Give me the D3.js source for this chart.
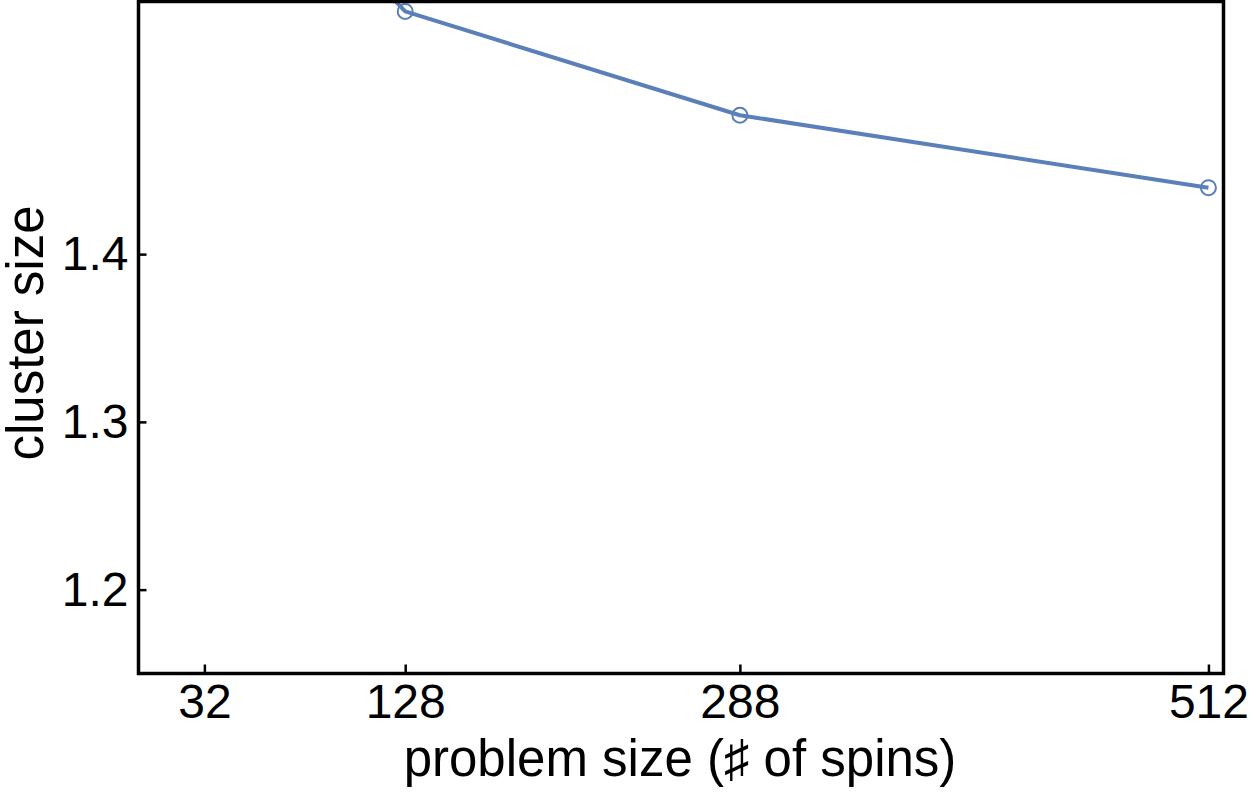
<!DOCTYPE html>
<html>
<head>
<meta charset="utf-8">
<script src="https://cdn.jsdelivr.net/npm/d3@7/dist/d3.min.js"></script>
<style>
  html, body { margin: 0; padding: 0; background: #fff; }
  svg { display: block; font-family: "Liberation Sans", Arial, Helvetica, sans-serif; }
</style>
</head>
<body>
<svg id="chart" width="1250" height="794"></svg>
<script>
// Data
const problemSizes = [32, 128, 288, 512];
const clusterSizes = [1.67, 1.5447, 1.4828, 1.4396];
const xTickValues = [32, 128, 288, 512];
const yTickValues = [1.2, 1.3, 1.4];
const xTitle = "problem size (\u266F of spins)";
const yTitle = "cluster size";

(function () {
const svg = d3.select("#chart");
const pLeft = 138.5, pRight = 1223.5, pTop = 1.5, pBottom = 673.5;

const x = d3.scaleLinear().domain([0.5, 519.2]).range([pLeft, pRight]);
const y = d3.scaleLinear().domain([1.15, 1.55]).range([pBottom, pTop + 1]);

const color = "#5b7fb9";

svg.append("clipPath").attr("id", "plotclip")
  .append("rect").attr("x", pLeft).attr("y", pTop).attr("width", pRight - pLeft).attr("height", pBottom - pTop);

const data = problemSizes.map((d, i) => ({ x: d, y: clusterSizes[i] }));

const g = svg.append("g").attr("clip-path", "url(#plotclip)");
g.append("path")
  .datum(data)
  .attr("fill", "none")
  .attr("stroke", color)
  .attr("stroke-width", 4)
  .attr("stroke-linejoin", "round")
  .attr("d", d3.line().x(d => x(d.x)).y(d => y(d.y)));

g.selectAll("circle").data(data).join("circle")
  .attr("cx", d => x(d.x))
  .attr("cy", d => y(d.y))
  .attr("r", 7.5)
  .attr("fill", "none")
  .attr("stroke", color)
  .attr("stroke-width", 2);

// Axes with inward ticks
const xAxis = d3.axisBottom(x).tickValues(xTickValues).tickSize(-9).tickPadding(10).tickFormat(d3.format("d"));
const xg = svg.append("g").attr("transform", `translate(0,${pBottom})`).call(xAxis);
xg.select(".domain").remove();
xg.selectAll(".tick line").attr("stroke", "#000").attr("stroke-width", 2.5);
xg.selectAll(".tick text").attr("font-size", 48).attr("fill", "#000")
  .attr("font-family", "Liberation Sans, Arial, sans-serif");

const yAxis = d3.axisLeft(y).tickValues(yTickValues).tickSize(-8).tickPadding(10).tickFormat(d3.format(".1f"));
const yg = svg.append("g").attr("transform", `translate(${pLeft},0)`).call(yAxis);
yg.select(".domain").remove();
yg.selectAll(".tick line").attr("stroke", "#000").attr("stroke-width", 2.5);
yg.selectAll(".tick text").attr("font-size", 48).attr("fill", "#000")
  .attr("font-family", "Liberation Sans, Arial, sans-serif");

// Frame
svg.append("rect")
  .attr("x", pLeft).attr("y", pTop)
  .attr("width", pRight - pLeft).attr("height", pBottom - pTop)
  .attr("fill", "none").attr("stroke", "#000").attr("stroke-width", 3.5);

// Titles
svg.append("text")
  .attr("x", 680).attr("y", 776)
  .attr("text-anchor", "middle").attr("font-size", 51).attr("fill", "#000")
  .text(xTitle);

svg.append("text")
  .attr("transform", `translate(43,${333}) rotate(-90)`)
  .attr("text-anchor", "middle").attr("font-size", 51).attr("fill", "#000")
  .text(yTitle);
})();
</script>
</body>
</html>
